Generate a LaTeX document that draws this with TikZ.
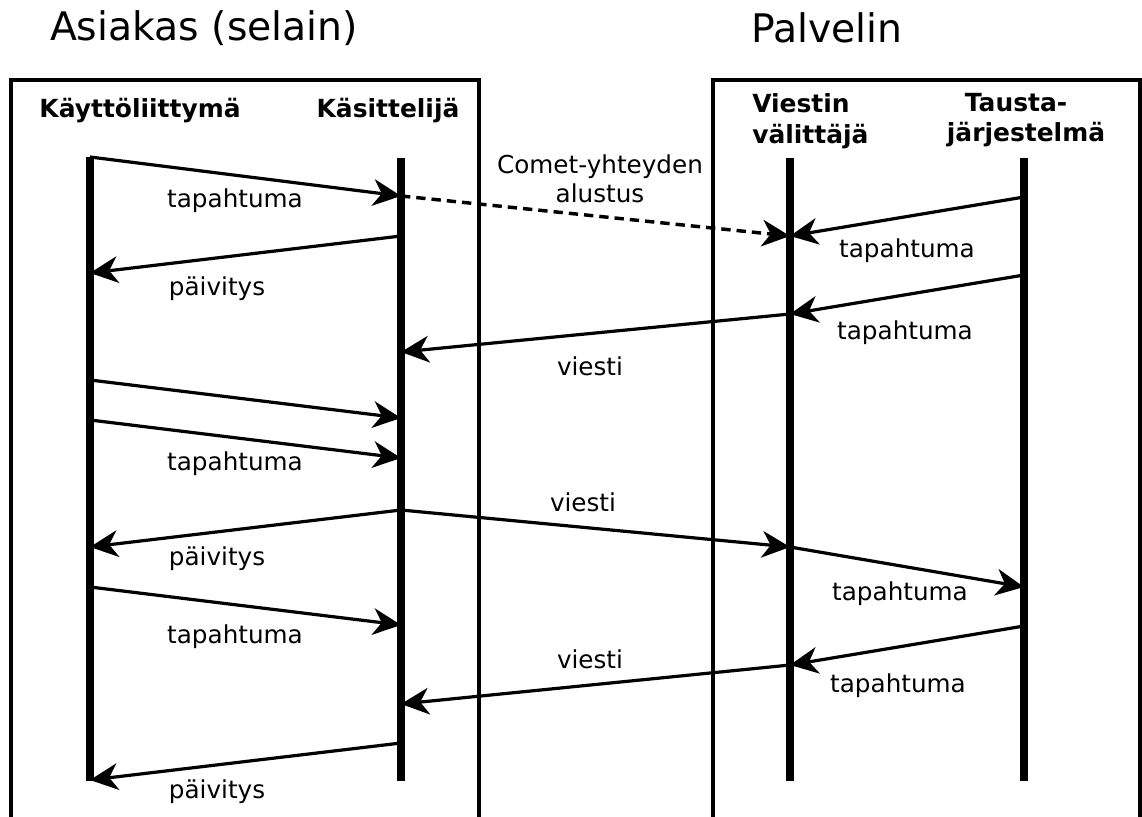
\documentclass[tikz,border=0pt]{standalone}
\usepackage{fontspec}
\setmainfont{DejaVu Sans}
\usetikzlibrary{arrows.meta}
\begin{document}
\begin{tikzpicture}[x=0.75pt,y=-0.75pt,
  frame/.style={line width=2.3pt},
  lifeline/.style={line width=5.3pt},
  msg/.style={line width=2.4pt,-{Stealth[length=21pt,width=20pt,inset=6.5pt]}},
  comet/.style={msg,line width=2.6pt,dash pattern=on 7pt off 4.5pt},
  lbl/.style={inner sep=0pt,font=\fontsize{18.5pt}{22pt}\selectfont},
  hdr/.style={inner sep=0pt,align=center,font=\fontsize{18.7pt}{23pt}\selectfont\bfseries},
  ttl/.style={inner sep=0pt,font=\fontsize{29.5pt}{34pt}\selectfont}]
\useasboundingbox (0,0) rectangle (1142,817);

% side titles
\node[ttl] (tclient) at (204,28) {Asiakas (selain)};
\node[ttl] (tserver) at (827,28) {Palvelin};

% frames, open at the bottom
\draw[frame] (11,840) -- (11,80) -- (479,80) -- (479,840);
\draw[frame] (713,840) -- (713,80) -- (1140,80) -- (1140,840);

% participant headers
\node[hdr] (hui) at (140,111) {Käyttöliittymä};
\node[hdr] (hkas) at (388,111) {Käsittelijä};
\node[hdr,align=left,anchor=west] (hvv) at (752,121) {Viestin\\välittäjä};
\node[hdr] (hts) at (1026,120) {Tausta-\hspace*{15pt}\\järjestelmä};

% lifelines
\coordinate (ui0) at (90,157);  \coordinate (ui9) at (90,781);
\coordinate (ka0) at (401,158); \coordinate (ka9) at (401,781);
\coordinate (vv0) at (790,158); \coordinate (vv9) at (790,781);
\coordinate (ts0) at (1024,158); \coordinate (ts9) at (1024,781);
\draw[lifeline] (ui0) -- (ui9);
\draw[lifeline] (ka0) -- (ka9);
\draw[lifeline] (vv0) -- (vv9);
\draw[lifeline] (ts0) -- (ts9);

% message points on the lifelines
\coordinate (ui1) at (90,157);   \coordinate (ka1) at (401,196);
\coordinate (vv1) at (790,236);  \coordinate (ts1) at (1024,197);
\coordinate (ka2) at (401,236);  \coordinate (ui2) at (90,273);
\coordinate (ts2) at (1024,275); \coordinate (vv2) at (790,314);
\coordinate (ka3) at (401,352);
\coordinate (ui3) at (90,380);   \coordinate (ka4) at (401,418);
\coordinate (ui4) at (90,420);   \coordinate (ka5) at (401,458);
\coordinate (ka6) at (401,510);  \coordinate (ui5) at (90,547);
\coordinate (vv3) at (790,547);  \coordinate (ts3) at (1024,587);
\coordinate (ui6) at (90,587);   \coordinate (ka7) at (401,625);
\coordinate (ts4) at (1024,626); \coordinate (vv4) at (790,665);
\coordinate (ka8) at (401,704);
\coordinate (kaA) at (401,743);  \coordinate (uiA) at (90,780);

% messages
\draw[msg] (ui1) -- (ka1);
\draw[comet] (ka1) -- (vv1);
\draw[msg] (ts1) -- (vv1);
\draw[msg] (ka2) -- (ui2);
\draw[msg] (ts2) -- (vv2);
\draw[msg] (vv2) -- (ka3);
\draw[msg] (ui3) -- (ka4);
\draw[msg] (ui4) -- (ka5);
\draw[msg] (ka6) -- (ui5);
\draw[msg] (ka6) -- (vv3);
\draw[msg] (vv3) -- (ts3);
\draw[msg] (ui6) -- (ka7);
\draw[msg] (ts4) -- (vv4);
\draw[msg] (vv4) -- (ka8);
\draw[msg] (kaA) -- (uiA);

% message labels
\node[lbl] (l1) at (235,201) {tapahtuma};
\node[lbl,align=center] (l2) at (600,179) {Comet-yhteyden\\alustus};
\node[lbl] (l3) at (907,251) {tapahtuma};
\node[lbl] (l4) at (217,289) {päivitys};
\node[lbl] (l5) at (905,333) {tapahtuma};
\node[lbl] (l6) at (590,366) {viesti};
\node[lbl] (l7) at (235,464) {tapahtuma};
\node[lbl] (l8) at (583,502) {viesti};
\node[lbl] (l9) at (217,559) {päivitys};
\node[lbl] (l10) at (900,594) {tapahtuma};
\node[lbl] (l11) at (235,637) {tapahtuma};
\node[lbl] (l12) at (590,659) {viesti};
\node[lbl] (l13) at (898,686) {tapahtuma};
\node[lbl] (l14) at (217,792) {päivitys};
\end{tikzpicture}
\end{document}
